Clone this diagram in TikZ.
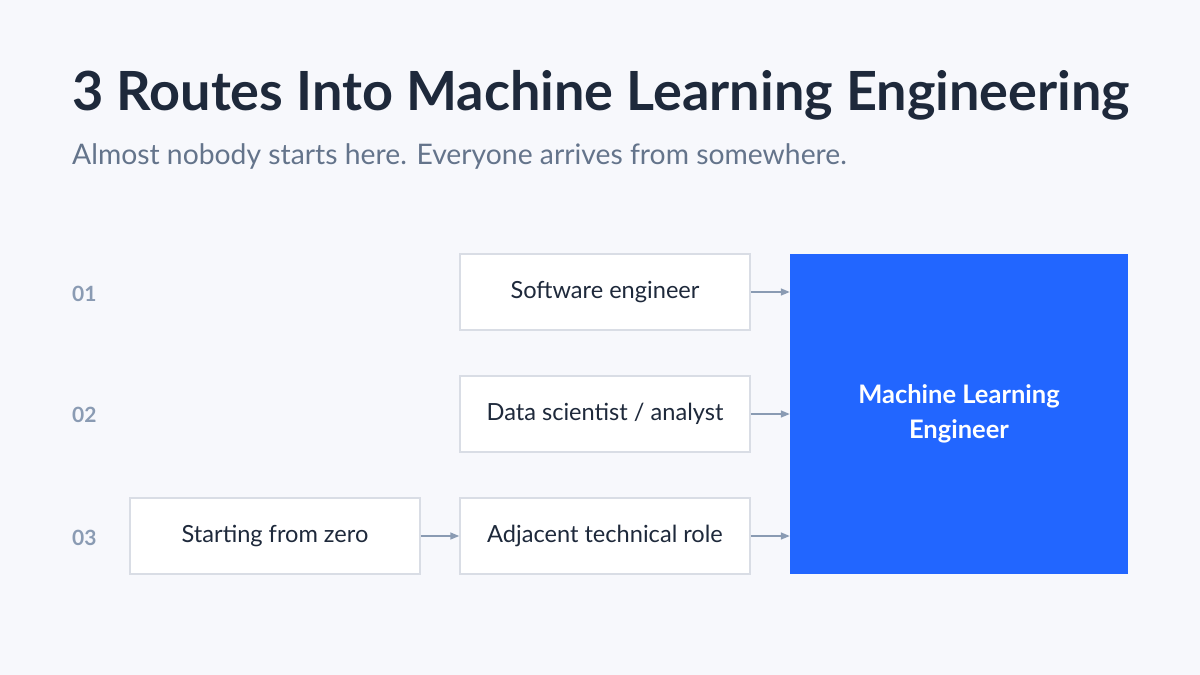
\documentclass[tikz,border=0pt]{standalone}
\usepackage{fontspec}
\setmainfont{Lato}
\usetikzlibrary{arrows.meta}
\definecolor{bg}{HTML}{F7F8FC}
\definecolor{ink}{HTML}{1E293B}
\definecolor{sub}{HTML}{64748B}
\definecolor{num}{HTML}{8A9BB3}
\definecolor{edge}{HTML}{D9DDE5}
\definecolor{blue}{HTML}{2266FF}
\tikzset{
  box/.style={draw=edge, line width=1.5pt, fill=white, minimum width=290pt, minimum height=76pt, inner sep=0pt, font=\fontsize{23.6}{27}\selectfont, text=ink},
  numlbl/.style={anchor=west, font=\fontsize{21}{24}\selectfont\bfseries, text=num, inner sep=0pt},
  conn/.style={draw=num, line width=1.5pt, -{Triangle[length=9pt,width=7pt]}},
}
\begin{document}
\begin{tikzpicture}[x=1pt,y=-1pt]
\fill[bg] (0,0) rectangle (1200,675);
\useasboundingbox (0,0) rectangle (1200,675);
\node[anchor=base west, inner sep=0pt, text=ink, font=\fontsize{54}{60}\selectfont\bfseries] (title) at (72,110) {3 Routes Into Machine Learning Engineering};
\node[anchor=base west, inner sep=0pt, text=sub, font=\fontsize{28.3}{32}\selectfont] (subtitle) at (72,164) {Almost nobody starts here. Everyone arrives from somewhere.};
\node[box] (se) at (605,292) {Software engineer};
\node[box] (ds) at (605,414) {Data scientist / analyst};
\node[box] (ad) at (605,536) {Adjacent technical role};
\node[box] (sz) at (275,536) {Starting from zero};
\node[fill=blue, minimum width=338pt, minimum height=320pt, inner sep=0pt, text=white, align=center, font=\fontsize{25.5}{35}\selectfont\bfseries] (mle) at (959,414) {Machine Learning\\Engineer};
\node[numlbl] (n1) at (72,294) {01};
\node[numlbl] (n2) at (72,415) {02};
\node[numlbl] (n3) at (72,538) {03};
\draw[conn] (se.east) -- (se.east -| mle.west);
\draw[conn] (ds.east) -- (ds.east -| mle.west);
\draw[conn] (ad.east) -- (ad.east -| mle.west);
\draw[conn] (sz.east) -- (ad.west);
\end{tikzpicture}
\end{document}
